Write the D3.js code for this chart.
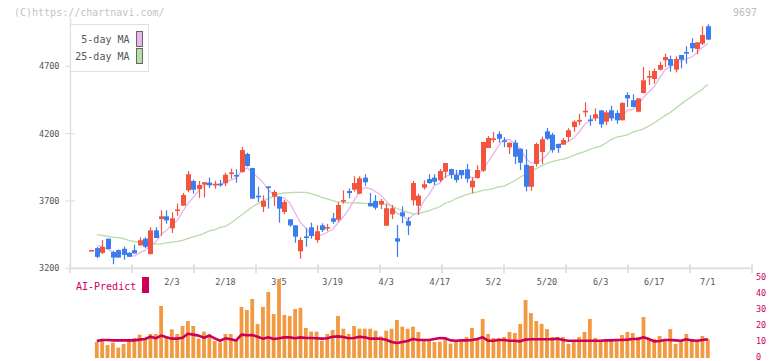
<!DOCTYPE html>
<html><head><meta charset="utf-8">
<script src="https://cdn.jsdelivr.net/npm/d3@7"></script>
<style>
body{margin:0;background:#fff;}
svg{display:block;}
text{font-family:"DejaVu Sans Mono","Liberation Mono",monospace;}
</style>
</head><body>
<svg id="chart" width="772" height="361"></svg>
<script>
// ---------- DATA ----------
const dates = [
 "1/10","1/14","1/15","1/16","1/17","1/20","1/21","1/22","1/23","1/24","1/27","1/28","1/29","1/30","1/31",
 "2/3","2/4","2/5","2/6","2/7","2/10","2/12","2/13","2/14","2/17","2/18","2/19","2/20","2/21","2/25","2/26","2/27","2/28",
 "3/3","3/4","3/5","3/6","3/7","3/10","3/11","3/12","3/13","3/14","3/17","3/18","3/19","3/21","3/24","3/25","3/26","3/27","3/28","3/31",
 "4/1","4/2","4/3","4/4","4/7","4/8","4/9","4/10","4/11","4/14","4/15","4/16","4/17","4/18","4/21","4/22","4/23","4/24","4/25","4/28","4/30",
 "5/1","5/2","5/7","5/8","5/9","5/12","5/13","5/14","5/15","5/16","5/19","5/20","5/21","5/22","5/23","5/26","5/27","5/28","5/29","5/30",
 "6/2","6/3","6/4","6/5","6/6","6/9","6/10","6/11","6/12","6/13","6/16","6/17","6/18","6/19","6/20","6/23","6/24","6/25","6/26","6/27","6/30",
 "7/1"
];
const opens = [3333,3350,3315,3420,3320,3335,3345,3315,3335,3370,3420,3305,3482,3566,3586,3497,3632,3665,3779,3848,
 3789,3822,3836,3823,3828,3831,3908,3893,3915,4049,3945,3739,3657,3808,3732,3732,3618,3564,3519,3326,
 3437,3504,3410,3519,3502,3571,3561,3703,3774,3784,3754,3873,3685,3700,3675,3516,3601,3423,3616,3551,
 3705,3665,3799,3863,3873,3853,3917,3937,3895,3930,3935,3801,3871,3925,4093,4160,4197,4150,4099,4133,
 4088,3969,3806,3975,4064,4217,4192,4123,4118,4175,4249,4297,4366,4305,4314,4373,4289,4373,4353,4299,
 4487,4448,4363,4502,4624,4606,4675,4745,4754,4675,4784,4806,4873,4829,4868,4997];
const highs = [3338,3358,3410,3420,3330,3340,3360,3320,3375,3430,3430,3505,3505,3631,3631,3616,3680,3759,3922,3858,
 3848,3840,3874,3850,3856,3910,3940,3935,4103,4058,3945,3806,3742,3808,3781,3732,3707,3564,3519,3430,
 3499,3539,3519,3534,3530,3611,3690,3779,3794,3883,3883,3898,3759,3744,3715,3680,3670,3522,3660,3581,
 3848,3754,3853,3898,3898,3937,3982,3940,3930,3930,3975,3876,3965,4140,4182,4212,4217,4173,4133,4153,
 4088,4084,3960,4133,4177,4242,4207,4123,4168,4240,4299,4348,4433,4338,4388,4373,4373,4407,4373,4433,
 4507,4492,4462,4695,4670,4685,4734,4794,4779,4774,4784,4849,4908,4878,4997,5012];
const lows = [3332,3275,3305,3340,3230,3280,3265,3285,3310,3370,3350,3305,3425,3442,3531,3462,3591,3665,3764,3754,
 3724,3726,3796,3791,3806,3811,3865,3836,3910,3955,3717,3692,3618,3643,3663,3539,3603,3509,3390,3271,
 3360,3420,3390,3470,3477,3531,3546,3680,3720,3769,3750,3813,3660,3635,3640,3516,3566,3284,3536,3447,
 3665,3596,3784,3828,3819,3841,3871,3865,3836,3865,3836,3757,3865,3915,4093,4133,4133,4099,4049,3975,
 3930,3772,3776,3955,3975,4153,4058,4058,4118,4140,4214,4264,4324,4259,4294,4244,4264,4294,4274,4299,
 4398,4398,4358,4497,4561,4571,4670,4695,4660,4655,4685,4719,4804,4789,4858,4898];
const closes = [3336,3285,3360,3343,3280,3280,3300,3285,3310,3408,3360,3482,3425,3586,3556,3571,3637,3744,3898,3784,
 3819,3839,3816,3828,3823,3895,3912,3889,4078,3960,3717,3735,3702,3804,3767,3643,3692,3519,3435,3410,
 3433,3440,3475,3484,3506,3546,3670,3707,3759,3833,3868,3839,3660,3650,3700,3646,3646,3398,3586,3516,
 3833,3739,3824,3833,3843,3922,3982,3894,3856,3891,3865,3851,3930,4138,4168,4164,4162,4146,4133,4029,
 3984,3806,3960,4123,4158,4162,4078,4093,4153,4225,4289,4301,4370,4301,4344,4269,4358,4314,4299,4428,
 4462,4398,4462,4596,4628,4665,4710,4769,4705,4754,4749,4802,4834,4878,4932,4898];
// 5-day MA as drawn for the first candles (earlier closes are off-chart)
const ma5Lead = [null,3373,3358,3343];
// 25-day MA (candle 1 has none)
const ma25 = [null,3450,3445,3438,3432,3428,3420,3408,3399,3393,3385,3380,3379,3382,3388,3395,3400,3408,3421,3434,3445,
 3459,3478,3486,3504,3512,3536,3566,3596,3626,3655,3678,3700,3718,3737,3753,3759,3762,3764,3764,3764,
 3754,3741,3727,3715,3702,3694,3689,3686,3686,3685,3682,3679,3678,3677,3676,3663,3644,3628,3617,3604,
 3608,3617,3629,3644,3657,3683,3696,3718,3733,3748,3758,3767,3778,3785,3794,3804,3811,3830,3852,3878,
 3897,3919,3941,3960,3980,3993,4004,4010,4021,4038,4053,4067,4083,4097,4108,4130,4156,4175,4182,4191,
 4211,4223,4236,4257,4279,4307,4334,4357,4388,4419,4448,4476,4503,4529,4566];
// volume bars and AI-Predict line, for candles 2..116
const volume = [10,11.3,8.1,9.6,6.5,8.8,11.3,12.5,14.6,11.3,15,15,32.5,13.3,17.9,15,20,23.1,20,12.1,
 16.5,15,10.6,9.8,15,15,11.3,31.9,30,36.9,21.3,31.9,41.3,27.5,49.4,26.9,26.3,30.6,31.3,18.8,
 16.5,16.5,10.8,15,17.5,26.3,18.3,15,20,18.3,18.3,18.3,17.1,
 13.5,17.1,18.3,23.8,19.6,18.3,19.6,16.3,11.3,11.3,10,10.2,11.9,9,10.6,10.6,13.1,18.8,11.5,24.4,
 15,12.5,12.5,13.1,16.3,15.6,21.3,36.3,28.1,23.1,21.3,18.1,13.1,13.1,13.1,8.8,11,13.1,16.3,24.4,
 12.5,10.6,10.6,10.6,10.6,14.4,16.3,15.6,13.1,25.6,11.9,11.9,13.8,10.6,18.1,8.8,10.6,15,11.9,10.6,13.8,11.9];
const aiPredict = [10.6,11.25,11.25,11,11,11,11,11,11.5,11.9,13.3,12.3,14,12.9,12.1,12.1,12.7,15.2,14.6,14,
 12.7,14,12.3,10.8,12.3,11.7,11,14.6,14.2,14.4,13.3,12.1,12.9,11.9,12.3,12.9,12.9,12.3,12.9,12.5,
 12.5,12.3,12.1,12.3,13.3,13.5,13.1,12.3,12.5,13.3,12.9,12.1,12.1,12,11.4,
 10,9.4,10,10.6,11.9,11.25,11.25,11.25,11.9,12.5,12.3,11,10.8,11,11,11.25,11.9,12.9,10.8,10.8,
 11.25,11.25,10.8,10.8,10.4,11.5,11.7,11.7,11.7,11.7,11.7,12.1,11.25,10.8,10.8,10.8,10.8,10.8,10.8,10.8,
 11,11,11.25,11.25,11.5,11.9,11.9,12.9,11.9,10.4,10.6,11.25,11.25,11,10.8,11.7,11,10.8,11.25,11.7];
const priceTicks = [3200,3700,4200,4700];
const volTicks = [0,10,20,30,40,50];
const labelStart = 15, labelStep = 10;
const legendItems = [{name:"5-day MA", color:"#e9b5ea"},{name:"25-day MA", color:"#b7dca6"}];

// ---------- DRAW ----------
const svg = d3.select("#chart");
const UP = "#f4533d", DOWN = "#3b7cee";
const x = d3.scaleLinear().domain([-4, 123.25]).range([70, 752]);
const y = d3.scaleLinear().domain([3200, 4700]).range([268.3, 66.3]);
const yv = d3.scaleLinear().domain([0, 50]).range([358, 278]);

svg.append("text").attr("x",14).attr("y",12).attr("dy","0.35em")
  .attr("font-size",10).attr("fill","#c4c4c4").text("(C)https://chartnavi.com/");
svg.append("text").attr("x",757).attr("y",12).attr("dy","0.35em").attr("text-anchor","end")
  .attr("font-size",10).attr("fill","#bdbdbd").text("9697");

// axes
const axisCol = "#e0e0e0";
svg.append("line").attr("x1",70.5).attr("x2",70.5).attr("y1",18).attr("y2",269)
  .attr("stroke",axisCol).attr("stroke-width",1.5);
svg.append("line").attr("x1",70).attr("x2",752.5).attr("y1",268.3).attr("y2",268.3)
  .attr("stroke",axisCol).attr("stroke-width",2);
const [r0, r1] = x.range();
d3.range(12).forEach(k => {
  const gx = r0 + k*(r1-r0)/11;
  svg.append("line").attr("x1",gx).attr("x2",gx).attr("y1",264.5).attr("y2",273)
    .attr("stroke",axisCol).attr("stroke-width",2);
});
priceTicks.forEach(v => {
  svg.append("line").attr("x1",65).attr("x2",75).attr("y1",y(v)).attr("y2",y(v))
    .attr("stroke",axisCol).attr("stroke-width",1.2);
  svg.append("text").attr("x",59.5).attr("y",y(v)).attr("dy","0.35em").attr("text-anchor","end")
    .attr("font-size",8.5).attr("fill","#555").text(v);
});
dates.forEach((d,i) => {
  if (i >= labelStart && (i - labelStart) % labelStep === 0) {
    svg.append("text").attr("x",x(i)).attr("y",282.5).attr("dy","0.35em").attr("text-anchor","middle")
      .attr("font-size",8.5).attr("fill","#555").text(d);
  }
});

// volume panel
const vg = svg.append("g");
volume.forEach((v,k) => {
  const i = k + 1;
  vg.append("rect").attr("x",x(i)-1.9).attr("width",3.8)
    .attr("y",yv(v)).attr("height",yv(0)-yv(v)).attr("fill","#f29a42");
});
svg.append("path").datum(aiPredict)
  .attr("d", d3.line().x((v,k)=>x(k+1)).y(v=>yv(v)))
  .attr("fill","none").attr("stroke","#cc0058").attr("stroke-width",2.6).attr("stroke-linejoin","round");
volTicks.forEach(v => {
  svg.append("text").attr("x",756).attr("y",yv(v)-0.5).attr("dy","0.35em")
    .attr("font-size",8.5).attr("fill","#cc0066").text(v);
});
svg.append("text").attr("x",76).attr("y",286).attr("dy","0.35em")
  .attr("font-size",10).attr("fill","#cc0066").text("AI-Predict");
svg.append("rect").attr("x",142).attr("y",277).attr("width",7).attr("height",16).attr("fill","#cc0058");

// moving averages
const ma5 = closes.map((c,i) => i < 4 ? ma5Lead[i] : d3.mean(closes.slice(i-4, i+1)));
const lineGen = d3.line().defined(v => v != null).x((v,i)=>x(i)).y(v=>y(v));
svg.append("path").datum(ma25).attr("d",lineGen)
  .attr("fill","none").attr("stroke",legendItems[1].color).attr("stroke-width",1.3);
svg.append("path").datum(ma5).attr("d",lineGen)
  .attr("fill","none").attr("stroke",legendItems[0].color).attr("stroke-width",1.3);

// candles
const cg = svg.append("g");
closes.forEach((c,i) => {
  const o = opens[i], col = c >= o ? UP : DOWN;
  const cx = Math.round(x(i)) + 0.5;
  cg.append("line").attr("x1",cx).attr("x2",cx).attr("y1",y(highs[i])).attr("y2",y(lows[i]))
    .attr("stroke",col).attr("stroke-width",1.2);
  const top = y(Math.max(o,c)), h = Math.max(1.6, Math.abs(y(o)-y(c)));
  cg.append("rect").attr("x",cx-2.5).attr("width",5).attr("y",top).attr("height",h).attr("fill",col);
});

// legend
const lg = svg.append("g");
lg.append("rect").attr("x",70.5).attr("y",24.5).attr("width",78).attr("height",47)
  .attr("fill","#fff").attr("stroke","#e0e0e0").attr("stroke-width",1);
legendItems.forEach((it,k) => {
  const cy = 39 + k*17;
  lg.append("text").attr("x",129.5).attr("y",cy).attr("dy","0.35em").attr("text-anchor","end")
    .attr("font-size",10).attr("fill","#555").text(it.name);
  lg.append("rect").attr("x",136.5).attr("y",cy-7.5).attr("width",6).attr("height",15)
    .attr("fill",it.color).attr("stroke","#666").attr("stroke-width",1);
});
</script>
</body></html>
